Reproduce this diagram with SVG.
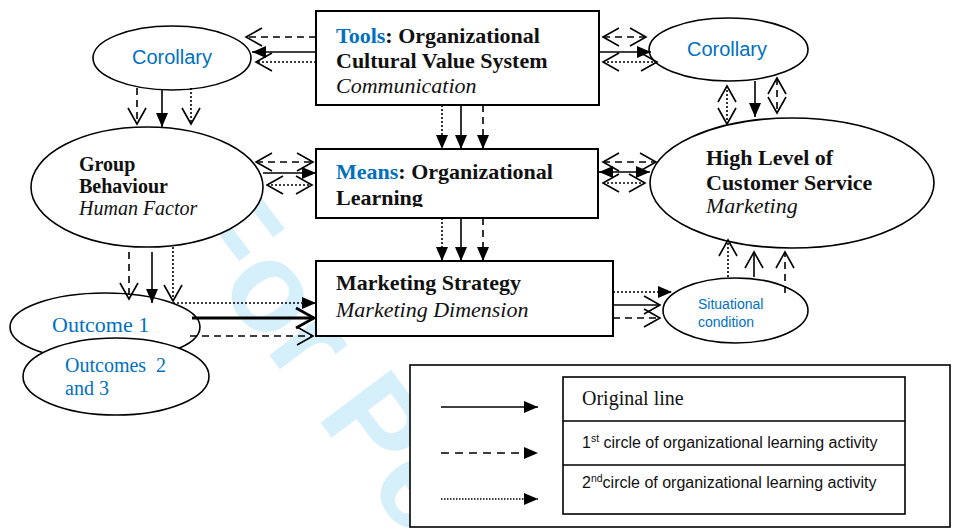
<svg xmlns="http://www.w3.org/2000/svg" width="955" height="529" viewBox="0 0 955 529">
<style>
.node{fill:#fff;stroke:#000;stroke-width:1.6}
.box{fill:#fff;stroke:#000;stroke-width:2}
.b22{font-family:"Liberation Serif","Times New Roman",serif;font-weight:bold;font-size:22px;fill:#111}
.i22{font-family:"Liberation Serif","Times New Roman",serif;font-style:italic;font-size:22px;fill:#111}
.b20{font-family:"Liberation Serif","Times New Roman",serif;font-weight:bold;font-size:20px;fill:#111}
.i20{font-family:"Liberation Serif","Times New Roman",serif;font-style:italic;font-size:20px;fill:#111}
.blue{fill:#0070C0}
.sans{font-family:"Liberation Sans",Arial,sans-serif}
.ln{fill:none;stroke:#000;stroke-width:1.6}
.dash{stroke-dasharray:7 5}
.dot{stroke-dasharray:2 2}
.thick{stroke-width:3}
.f{marker-end:url(#af)}
.o{marker-end:url(#ao)}
.oo{marker-start:url(#ao);marker-end:url(#ao)}
.ff{marker-start:url(#af);marker-end:url(#af)}
</style>
<defs>
<marker id="af" markerUnits="userSpaceOnUse" viewBox="0 0 14 12" refX="14" refY="6" markerWidth="14" markerHeight="12" orient="auto-start-reverse"><path d="M0,0 L14,6 L0,12 z" fill="#000"/></marker>
<marker id="ao" markerUnits="userSpaceOnUse" viewBox="-2 -2 20 22" refX="16" refY="9" markerWidth="20" markerHeight="22" orient="auto-start-reverse"><path d="M0,0 L16,9 L0,18" fill="none" stroke="#000" stroke-width="1.6"/></marker>
<marker id="aot" markerUnits="userSpaceOnUse" viewBox="-2 -2 22 24" refX="18" refY="10" markerWidth="22" markerHeight="24" orient="auto-start-reverse"><path d="M0,0 L18,10 L0,20" fill="none" stroke="#000" stroke-width="2.6"/></marker>
<clipPath id="meansClip"><rect x="316" y="149" width="282" height="58"/></clipPath>
</defs>
<rect width="955" height="529" fill="#fff"/>
<text id="watermark" transform="translate(170,223) rotate(53)" font-family="Liberation Sans, Arial, sans-serif" font-weight="bold" font-size="128" fill="#d5effb">For Pe</text>

<g id="tools"><rect class="box" x="316" y="11" width="283" height="94"/>
<text x="336" y="43" class="b22"><tspan class="blue">Tools</tspan>: Organizational</text>
<text x="336" y="68" class="b22">Cultural Value System</text>
<text x="336" y="93" class="i22">Communication</text></g>

<g id="means"><rect class="box" x="316" y="149" width="282" height="69"/>
<g clip-path="url(#meansClip)"><text x="336" y="179" class="b22"><tspan class="blue">Means</tspan>: Organizational</text>
<text x="336" y="205" class="b22">Learning</text></g></g>

<g id="strategy"><rect class="box" x="316" y="261" width="297" height="75"/>
<text x="336" y="290" class="b22">Marketing Strategy</text>
<text x="336" y="317" class="i22">Marketing Dimension</text></g>

<g id="corollary-left"><ellipse class="node" cx="172" cy="58" rx="79" ry="32"/>
<text x="172" y="64" class="sans blue" font-size="20" text-anchor="middle">Corollary</text></g>

<g id="corollary-right"><ellipse class="node" cx="728.5" cy="49.5" rx="79.5" ry="31.5"/>
<text x="727" y="56" class="sans blue" font-size="20" text-anchor="middle">Corollary</text></g>

<g id="group"><ellipse class="node" cx="147" cy="187" rx="116" ry="60"/>
<text x="79" y="171" class="b20">Group</text>
<text x="79" y="193" class="b20">Behaviour</text>
<text x="79" y="215" class="i20">Human Factor</text></g>

<g id="service"><ellipse class="node" cx="792" cy="183" rx="142" ry="65"/>
<text x="706" y="165" class="b22">High Level of</text>
<text x="706" y="190" class="b22">Customer Service</text>
<text x="706" y="213" class="i22">Marketing</text></g>

<g id="outcome1"><ellipse class="node" cx="105" cy="327" rx="95" ry="34"/>
<text x="52" y="332" font-family="Liberation Serif, Times New Roman, serif" font-size="22" class="blue">Outcome 1</text></g>

<g id="outcomes23"><ellipse class="node" cx="116" cy="376.5" rx="93" ry="38.5"/>
<text x="65" y="372" font-family="Liberation Serif, Times New Roman, serif" font-size="20" class="blue" xml:space="preserve">Outcomes  2</text>
<text x="65" y="395" font-family="Liberation Serif, Times New Roman, serif" font-size="20" class="blue">and 3</text></g>

<g id="situational"><ellipse class="node" cx="735.5" cy="310.5" rx="72.5" ry="32.5"/>
<text x="698" y="309" class="sans blue" font-size="14">Situational</text>
<text x="698" y="327" class="sans blue" font-size="14">condition</text></g>

<g id="connectors">
<path class="ln dash o" d="M316,37 L246,37"/>
<path class="ln f" d="M316,52 L252,52"/>
<path class="ln dot o" d="M316,62 L256,62"/>

<path class="ln dash oo" d="M603,37 L646,37"/>
<path class="ln f" d="M599,52 L651,52"/>
<path class="ln dot oo" d="M603,62 L657,62"/>

<path class="ln dot f" d="M442,105 L442,149"/>
<path class="ln f" d="M461,105 L461,149"/>
<path class="ln dash f" d="M483,105 L483,149"/>

<path class="ln dot f" d="M442,218 L442,261"/>
<path class="ln f" d="M461,218 L461,261"/>
<path class="ln dash f" d="M483,218 L483,261"/>

<path class="ln dash o" d="M137,88 L137,124"/>
<path class="ln f" d="M162,90 L162,127"/>
<path class="ln dot o" d="M191,88 L191,124"/>

<path class="ln dash oo" d="M256,162 L313,162"/>
<path class="ln f" d="M263,173 L316,173"/>
<path class="ln dot oo" d="M267,185 L312,185"/>

<path class="ln dash oo" d="M603,162 L656,162"/>
<path class="ln ff" d="M599,172 L650,172"/>
<path class="ln dot oo" d="M603,183 L645,183"/>

<path class="ln dot oo" d="M727,86 L727,124"/>
<path class="ln f" d="M755,81 L755,117"/>
<path class="ln dash oo" d="M777,78 L777,113"/>

<path class="ln dash o" d="M129,252 L129,299"/>
<path class="ln f" d="M152,252 L152,303"/>
<path class="ln dot o" d="M173,247 L173,301"/>

<path class="ln dot f" d="M173,303 L316,303"/>
<path class="ln thick" d="M192,318 L314,318" marker-end="url(#aot)"/>
<path class="ln dash o" d="M190,336 L313,336"/>

<path class="ln dot f" d="M613,292 L672,292"/>
<path class="ln o" d="M613,305 L660,305"/>
<path class="ln dash o" d="M613,318 L660,318"/>

<path class="ln dot o" d="M728,277 L728,240"/>
<path class="ln o" d="M754,277 L754,252"/>
<path class="ln dash o" d="M785,293 L785,252"/>
</g>

<g id="legend">
<rect x="410" y="365" width="540" height="162" fill="#fff" stroke="#000" stroke-width="1.6"/>
<rect x="563" y="377" width="342" height="137" fill="#fff" stroke="#000" stroke-width="1.6"/>
<path d="M563,421 H905 M563,465 H905" stroke="#000" stroke-width="1.6"/>
<path class="ln f" d="M441,407 L538,407"/>
<path class="ln f" d="M441,453 L538,453" stroke-dasharray="8 6"/>
<path class="ln f" d="M441,499 L538,499" stroke-dasharray="1.5 1.5"/>
<text x="582" y="405" font-family="Liberation Serif, Times New Roman, serif" font-size="20" fill="#111">Original line</text>
<text x="582" y="448" class="sans" font-size="16" fill="#111">1<tspan dy="-6" font-size="10.5">st</tspan><tspan dy="6"> circle of organizational learning activity</tspan></text>
<text x="582" y="488" class="sans" font-size="16" fill="#111">2<tspan dy="-6" font-size="10.5">nd</tspan><tspan dy="6">circle of organizational learning activity</tspan></text>
</g>
</svg>
